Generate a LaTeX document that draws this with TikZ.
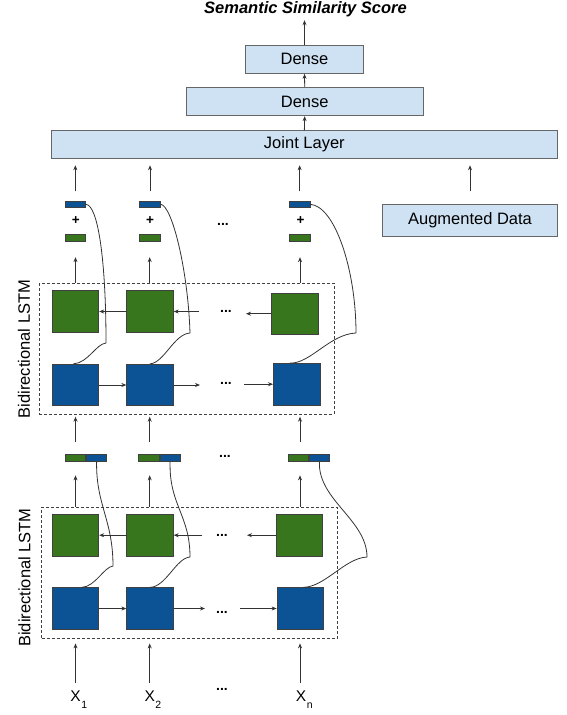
\documentclass[tikz,border=0pt]{standalone}
\usepackage{fontspec}
\setmainfont{Liberation Sans}
\usetikzlibrary{arrows.meta}
\definecolor{lblue}{HTML}{CFE2F3}
\definecolor{dgreen}{HTML}{38761D}
\definecolor{dblue}{HTML}{0B5394}
\definecolor{edge}{HTML}{333333}
\begin{document}
\begin{tikzpicture}[x=1pt,y=-1pt,
  every node/.style={font=\fontsize{16.5}{19}\selectfont},
  lbox/.style={draw=black!60, fill=lblue, line width=0.9pt, inner sep=0pt},
  gcell/.style={draw=black!75, fill=dgreen, line width=0.8pt, minimum width=46.5pt, minimum height=41.5pt, inner sep=0pt},
  bcell/.style={draw=black!75, fill=dblue, line width=0.8pt, minimum width=46.5pt, minimum height=41.5pt, inner sep=0pt},
  gbar/.style={draw=black!75, fill=dgreen, line width=0.7pt, minimum width=20.4pt, minimum height=6.8pt, inner sep=0pt},
  bbar/.style={draw=black!75, fill=dblue, line width=0.7pt, minimum width=20.4pt, minimum height=6.8pt, inner sep=0pt},
  dbox/.style={draw=black!75, dash pattern=on 3pt off 2pt, line width=0.8pt, inner sep=0pt},
  arr/.style={draw=edge, line width=0.8pt, -{Stealth[length=5pt,width=4pt]}},
  curve/.style={draw=edge, line width=0.8pt},
  dots/.style={font=\fontsize{14}{16}\selectfont\bfseries, inner sep=0pt, anchor=base},
  plus/.style={font=\fontsize{13.5}{15}\selectfont\bfseries, inner sep=0pt},
  xlab/.style={font=\fontsize{15.5}{18}\selectfont, inner sep=0pt, anchor=base},
  side/.style={rotate=90, inner sep=0pt},
]
\useasboundingbox (0,0) rectangle (566,715);

% column coordinates
\coordinate (c1) at (75.5,0);
\coordinate (c2) at (149.7,0);
\coordinate (c3) at (300,0);

% top stack
\node[font=\fontsize{16.5}{19}\selectfont\bfseries\itshape, inner sep=0pt] (title) at (305.5,9.3) {Semantic Similarity Score};
\node[lbox, minimum width=117.6pt, minimum height=28.3pt] (d1) at (304.5,59.2) {Dense};
\node[lbox, minimum width=237.3pt, minimum height=28.4pt] (d2) at (304.7,101.5) {Dense};
\node[lbox, minimum width=505.3pt, minimum height=27.8pt] (joint) at (304.35,144.6) {Joint Layer};
\node[lbox, minimum width=174.6pt, minimum height=31.7pt] (aug) at (470,220.2) {Augmented Data};

\draw[arr, shorten >=3pt] (d1.north) -- (d1.north |- title.south);
\draw[arr] (d2.north) -- (d1.south);
\draw[arr] (joint.north) -- (d2.south);

% top output bars
\node[bbar] (tb1) at (75.35,204.3) {};
\node[bbar] (tb2) at (150,204.3) {};
\node[bbar] (tb3) at (299.65,204.3) {};
\node[gbar] (tg1) at (75.35,237.7) {};
\node[gbar] (tg2) at (150,237.7) {};
\node[gbar] (tg3) at (299.65,237.7) {};
\node[plus] (p1) at (75.7,221) {+};
\node[plus] (p2) at (150,221) {+};
\node[plus] (p3) at (300.5,221) {+};
\node[dots] (td) at (223,225.3) {...};

\draw[arr, shorten <=9.3pt, shorten >=6.3pt] (tb1.north) -- (tb1.north |- joint.south);
\draw[arr, shorten <=9.3pt, shorten >=6.3pt] (tb2.north) -- (tb2.north |- joint.south);
\draw[arr, shorten <=9.3pt, shorten >=6.3pt] (tb3.north) -- (tb3.north |- joint.south);
\draw[arr, shorten <=12.6pt, shorten >=6.3pt] (aug.north) -- (aug.north |- joint.south);

% upper BiLSTM
\node[dbox, minimum width=294.7pt, minimum height=131pt] (ubox) at (186.65,348.8) {};
\node[side] (ulab) at (24,349) {Bidirectional LSTM};
\node[gcell] (ug1) at (75.5,311.5) {};
\node[gcell] (ug2) at (150,311.5) {};
\node[gcell] (ug3) at (294.7,313.7) {};
\node[bcell] (ub1) at (75.5,385) {};
\node[bcell] (ub2) at (150,385) {};
\node[bcell] (ub3) at (296.7,384.2) {};

\draw[arr] (ug2.west) -- (ug1.east);
\coordinate (ug2in) at (199,311.5);
\draw[arr] (ug2in) -- (ug2.east);
\node[dots] (ugd) at (226,312.5) {...};
\coordinate (ug3out) at (246,313.7);
\draw[arr] (ug3.west) -- (ug3out);

\draw[arr] (ub1.east) -- (ub2.west);
\coordinate (ub2out) at (200,385);
\draw[arr] (ub2.east) -- (ub2out);
\node[dots] (ubd) at (226,384.5) {...};
\coordinate (ub3in) at (244,384.2);
\draw[arr] (ub3in) -- (ub3.west);

\draw[arr, shorten >=15.7pt] (c1 |- ubox.north) -- (c1 |- tg1.south);
\draw[arr, shorten >=15.7pt] (c2 |- ubox.north) -- (c2 |- tg2.south);
\draw[arr, shorten >=15.7pt] (c3 |- ubox.north) -- (c3 |- tg3.south);

% lower concatenated bars
\node[gbar, minimum height=7.4pt] (lgb1) at (75.5,458) {};
\node[bbar, minimum height=7.4pt, anchor=west] (lbb1) at (lgb1.east) {};
\node[gbar, minimum height=7.4pt] (lgb2) at (149,458) {};
\node[bbar, minimum height=7.4pt, anchor=west] (lbb2) at (lgb2.east) {};
\node[gbar, minimum height=7.4pt] (lgb3) at (298.3,458) {};
\node[bbar, minimum height=7.4pt, anchor=west] (lbb3) at (lgb3.east) {};
\node[dots] (lbd) at (225,457.5) {...};

\draw[arr, shorten <=12.3pt, shorten >=2pt] (c1 |- lgb1.north) -- (c1 |- ubox.south);
\draw[arr, shorten <=12.3pt, shorten >=2pt] (c2 |- lgb2.north) -- (c2 |- ubox.south);
\draw[arr, shorten <=12.3pt, shorten >=2pt] (c3 |- lgb3.north) -- (c3 |- ubox.south);

% lower BiLSTM
\node[dbox, minimum width=295.6pt, minimum height=131pt] (lbox) at (189.5,572.8) {};
\node[side] (llab) at (24.5,577.5) {Bidirectional LSTM};
\node[gcell] (lgc1) at (75.5,535.2) {};
\node[gcell] (lgc2) at (150,535.2) {};
\node[gcell] (lgc3) at (299.3,535.2) {};
\node[bcell] (lbc1) at (75.5,608.5) {};
\node[bcell] (lbc2) at (150,608.5) {};
\node[bcell] (lbc3) at (300.3,608.5) {};

\draw[arr] (lgc2.west) -- (lgc1.east);
\coordinate (lg2in) at (202,535.2);
\draw[arr] (lg2in) -- (lgc2.east);
\node[dots] (lgd) at (222,536.5) {...};
\coordinate (lg3out) at (247,535.2);
\draw[arr] (lgc3.west) -- (lg3out);

\draw[arr] (lbc1.east) -- (lbc2.west);
\coordinate (lb2out) at (205,608.5);
\draw[arr] (lbc2.east) -- (lb2out);
\node[dots] (lbcd) at (222,613) {...};
\coordinate (lb3in) at (240,608.5);
\draw[arr] (lb3in) -- (lbc3.west);

\draw[arr, shorten >=13.3pt] (c1 |- lbox.north) -- (c1 |- lgb1.south);
\draw[arr, shorten >=13.3pt] (c2 |- lbox.north) -- (c2 |- lgb2.south);
\draw[arr, shorten >=13.3pt] (c3 |- lbox.north) -- (c3 |- lgb3.south);

% inputs
\node[xlab] (x1) at (75.5,701.7) {X\rlap{\kern0.6pt\raisebox{-6.6pt}{\fontsize{10.5}{12}\selectfont 1}}};
\node[xlab] (x2) at (149.7,701.7) {X\rlap{\kern0.6pt\raisebox{-6.6pt}{\fontsize{10.5}{12}\selectfont 2}}};
\node[xlab] (xn) at (301,701.7) {X\rlap{\kern0.8pt\raisebox{-6.6pt}{\fontsize{10.5}{12}\selectfont n}}};
\node[dots] (xd) at (222,690.5) {...};

\draw[arr, shorten <=7.7pt, shorten >=4.7pt] (c1 |- x1.north) -- (c1 |- lbox.south);
\draw[arr, shorten <=7.7pt, shorten >=4.7pt] (c2 |- x2.north) -- (c2 |- lbox.south);
\draw[arr, shorten <=7.7pt, shorten >=4.7pt] (c3 |- xn.north) -- (c3 |- lbox.south);

% backward-state curves, upper
\draw[curve] (tb1.east) .. controls (98,205) and (106,260) .. (106,343) .. controls (96,344) and (88,363) .. ([xshift=-2pt]ub1.north);
\draw[curve] (tb2.east) .. controls (172,205) and (188,270) .. (190,333) .. controls (174,334) and (164,363) .. (ub2.north);
\draw[curve] (tb3.east) .. controls (335,206) and (356,270) .. (356,333) .. controls (330,334) and (310,364) .. ([xshift=-6.7pt]ub3.north);

% backward-state curves, lower
\draw[curve] (lbb1.south) .. controls (96,505) and (113,520) .. (113,566) .. controls (104,567) and (95,587) .. ([xshift=6.2pt]lbc1.north);
\draw[curve] (lbb2.south) .. controls (169,505) and (190,515) .. (190,557) .. controls (176,558) and (166,587) .. (lbc2.north);
\draw[curve] (lbb3.south) .. controls (318,500) and (367,520) .. (367,557) .. controls (345,558) and (325,587) .. ([xshift=3pt]lbc3.north);
\end{tikzpicture}
\end{document}
